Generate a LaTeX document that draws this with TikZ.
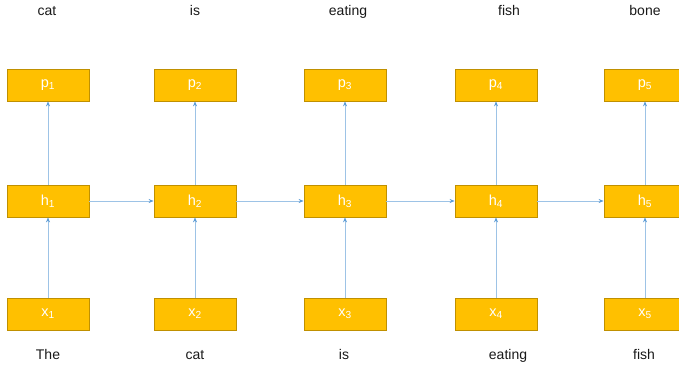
\documentclass[tikz,border=0pt]{standalone}
\usepackage{fontspec}
\setmainfont{Liberation Sans}
\usetikzlibrary{arrows.meta}
\definecolor{boxfill}{HTML}{FFC000}
\definecolor{boxline}{HTML}{C09000}
\definecolor{linkline}{HTML}{9DC3E6}
\definecolor{linktip}{HTML}{5B9BD5}
\begin{document}
\begin{tikzpicture}[x=1pt,y=-1pt,
  cell/.style={draw=boxline, line width=0.8pt, fill=boxfill, minimum width=82pt, minimum height=32pt,
    inner sep=0pt, text=white, font=\fontsize{14.5}{16}\selectfont},
  word/.style={inner sep=0pt, text height=10pt, text depth=3pt, text=black!90,
    font=\fontsize{14}{16}\selectfont},
  link/.style={draw=linkline, line width=0.7pt, -{Stealth[length=5pt,width=4pt,color=linktip]}}]
\useasboundingbox (0,0) rectangle (679,366);
\clip (0,0) rectangle (679,366);
% three rows of cells: outputs p, hidden states h, inputs x
\foreach \i/\cx in {1/48,2/195,3/345,4/496,5/645}{
  \node[cell] (p\i) at (\cx,85) {p\textsubscript{\i}};
  \node[cell] (h\i) at (\cx,201) {h\textsubscript{\i}};
  \node[cell] (x\i) at (\cx,314) {x\textsubscript{\i}};
  \draw[link] (x\i) -- (h\i);
  \draw[link] (h\i) -- (p\i);
}
% recurrence between hidden states
\foreach \i/\j in {1/2,2/3,3/4,4/5}{
  \draw[link] (h\i) -- (h\j);
}
% predicted words above
\node[word] (o1) at (47,12.5) {cat};
\node[word] (o2) at (195,12.5) {is};
\node[word] (o3) at (348,12.5) {eating};
\node[word] (o4) at (509,12.5) {fish};
\node[word] (o5) at (645,12.5) {bone};
% input words below
\node[word] (w1) at (48,356) {The};
\node[word] (w2) at (195,356) {cat};
\node[word] (w3) at (344,356) {is};
\node[word] (w4) at (508,356) {eating};
\node[word] (w5) at (644,356) {fish};
\end{tikzpicture}
\end{document}
